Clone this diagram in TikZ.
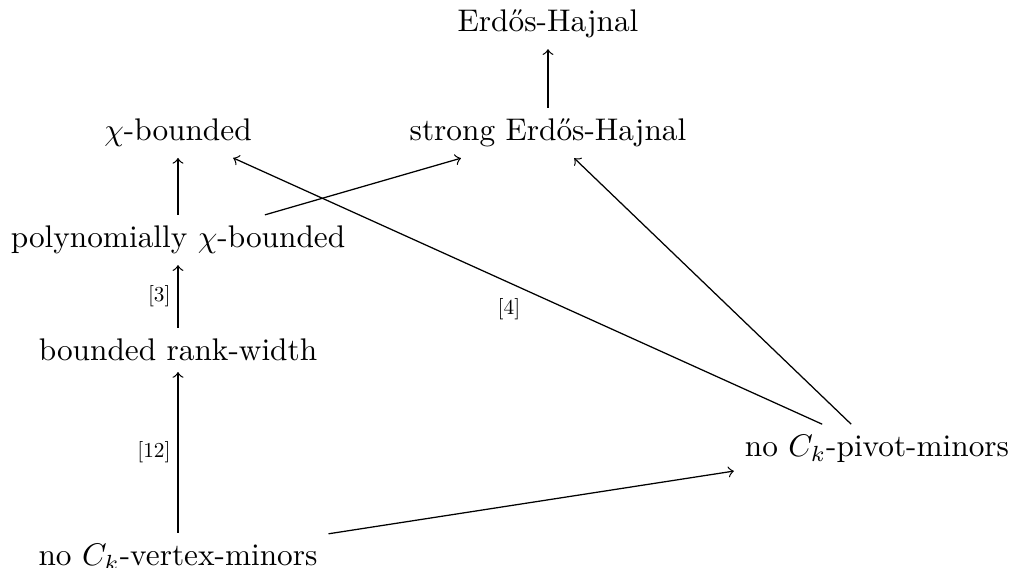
\documentclass[tikz,border=0pt]{standalone}
\usepackage{fontspec}
\begin{document}
\begin{tikzpicture}[x=0.3195pt,y=-0.3195pt,
  imp/.style={->},
  ref/.style={scale=0.68}]
\useasboundingbox (0,0) rectangle (1013,568);
\node (eh) at (548,24) {Erd\H{o}s-Hajnal};
\node (seh) at (548,133) {strong Erd\H{o}s-Hajnal};
\node (chi) at (178,133) {$\chi$-bounded};
\node (poly) at (178,240) {polynomially $\chi$-bounded};
\node (brw) at (178,350) {bounded rank-width};
\node (vert) at (178,557) {no $C_k$-vertex-minors};
\node (piv) at (877,449) {no $C_k$-pivot-minors};
\draw[imp] (seh) -- (eh);
\draw[imp] (poly) -- (chi);
\draw[imp] (poly) -- (seh);
\draw[imp] (brw) -- node[ref,left] {[3]} (poly);
\draw[imp] (vert) -- node[ref,left] {[12]} (brw);
\draw[imp] (vert) -- (piv);
\draw[imp] (piv) -- node[ref,below left] {[4]} (chi);
\draw[imp] (piv) -- (seh);
\end{tikzpicture}
\end{document}
